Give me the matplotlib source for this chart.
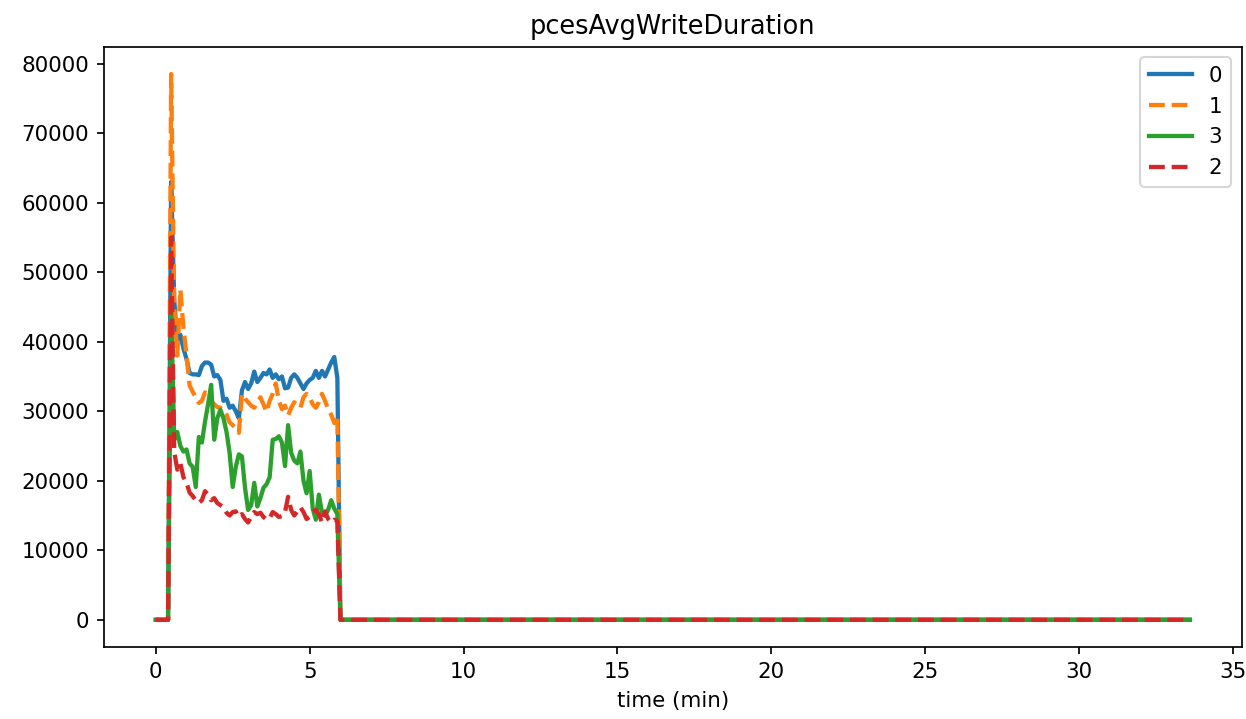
import numpy as np
import matplotlib
matplotlib.use("Agg")
import matplotlib.pyplot as plt

# time grid (min), sample step 0.1 min
time_min = np.round(np.arange(0, 33.65, 0.1), 2)
lead_zeros = 5  # samples before the burst (0.0 .. 0.4 min)

s0 = [63000, 46000, 40000, 41000, 39000, 37500, 35500, 35300, 35300, 35200,
      36500, 37000, 37000, 36700, 35000, 35200, 34500, 31500, 31800, 30500,
      30800, 30000, 29000, 33000, 34200, 33200, 34000, 35700, 34200, 34800,
      35500, 35300, 36000, 34800, 35300, 34600, 35000, 33300, 33400, 34800,
      35300, 34800, 34000, 33200, 34000, 34500, 34800, 35800, 34800, 35800,
      35000, 36000, 37000, 37800, 34800]
s1 = [78500, 45000, 38000, 47500, 42000, 38000, 33700, 32800, 32000, 31200,
      31500, 32700, 32500, 31500, 31000, 30600, 30500, 30000, 29500, 28400,
      28000, 27500, 26900, 32500, 31800, 31300, 30800, 30500, 31200, 32000,
      31000, 29900, 31500, 32500, 34000, 31500, 30300, 30800, 29400, 30500,
      31300, 30800, 30500, 32000, 32500, 32000, 31000, 30500, 31300, 32500,
      31500, 30300, 29500, 28300, 29400]
s3 = [45000, 25900, 27000, 25000, 24200, 24500, 22500, 22000, 19100, 26300,
      25500, 28500, 31000, 33800, 25900, 29000, 30200, 29000, 27000, 24000,
      19100, 22000, 23800, 23500, 19000, 15800, 16500, 19700, 16300, 17500,
      19000, 19500, 20500, 25900, 26000, 26400, 25500, 22100, 28000, 24000,
      22900, 22500, 24200, 20000, 18200, 21400, 16000, 14400, 18000, 15400,
      15000, 15800, 17200, 16000, 15200]
s2 = [55000, 24200, 21600, 22500, 20500, 19700, 18300, 17800, 17200, 16800,
      17200, 18500, 18000, 17200, 17500, 16800, 16500, 16200, 15400, 15000,
      15500, 15600, 14800, 15200, 14500, 14000, 14800, 15500, 15200, 15400,
      14800, 14400, 14600, 15500, 15200, 14800, 14900, 15500, 17700, 15800,
      15000, 15600, 16200, 15500, 14500, 14800, 15500, 15800, 15200, 14000,
      15600, 14500, 14000, 14400, 14200]

series_labels = ["0", "1", "3", "2"]
series_values = [s0, s1, s3, s2]
colors = ["#1f77b4", "#ff7f0e", "#2ca02c", "#d62728"]
styles = ["-", "--", "-", "--"]


def full(vals):
    arr = np.zeros(len(time_min))
    arr[lead_zeros:lead_zeros + len(vals)] = vals
    return arr


DPI = 154
fig = plt.figure(figsize=(1246 / DPI, 719 / DPI), dpi=DPI)
ax = fig.add_axes([0.0835, 0.1, 0.913, 0.835])
for lab, vals, c, ls in zip(series_labels, series_values, colors, styles):
    ax.plot(time_min, full(vals), color=c, linestyle=ls, linewidth=2, label=lab)

ax.set_title("pcesAvgWriteDuration")
ax.set_xlabel("time (min)")
ax.legend(loc="upper right")
fig.savefig("out.png", dpi=DPI)
